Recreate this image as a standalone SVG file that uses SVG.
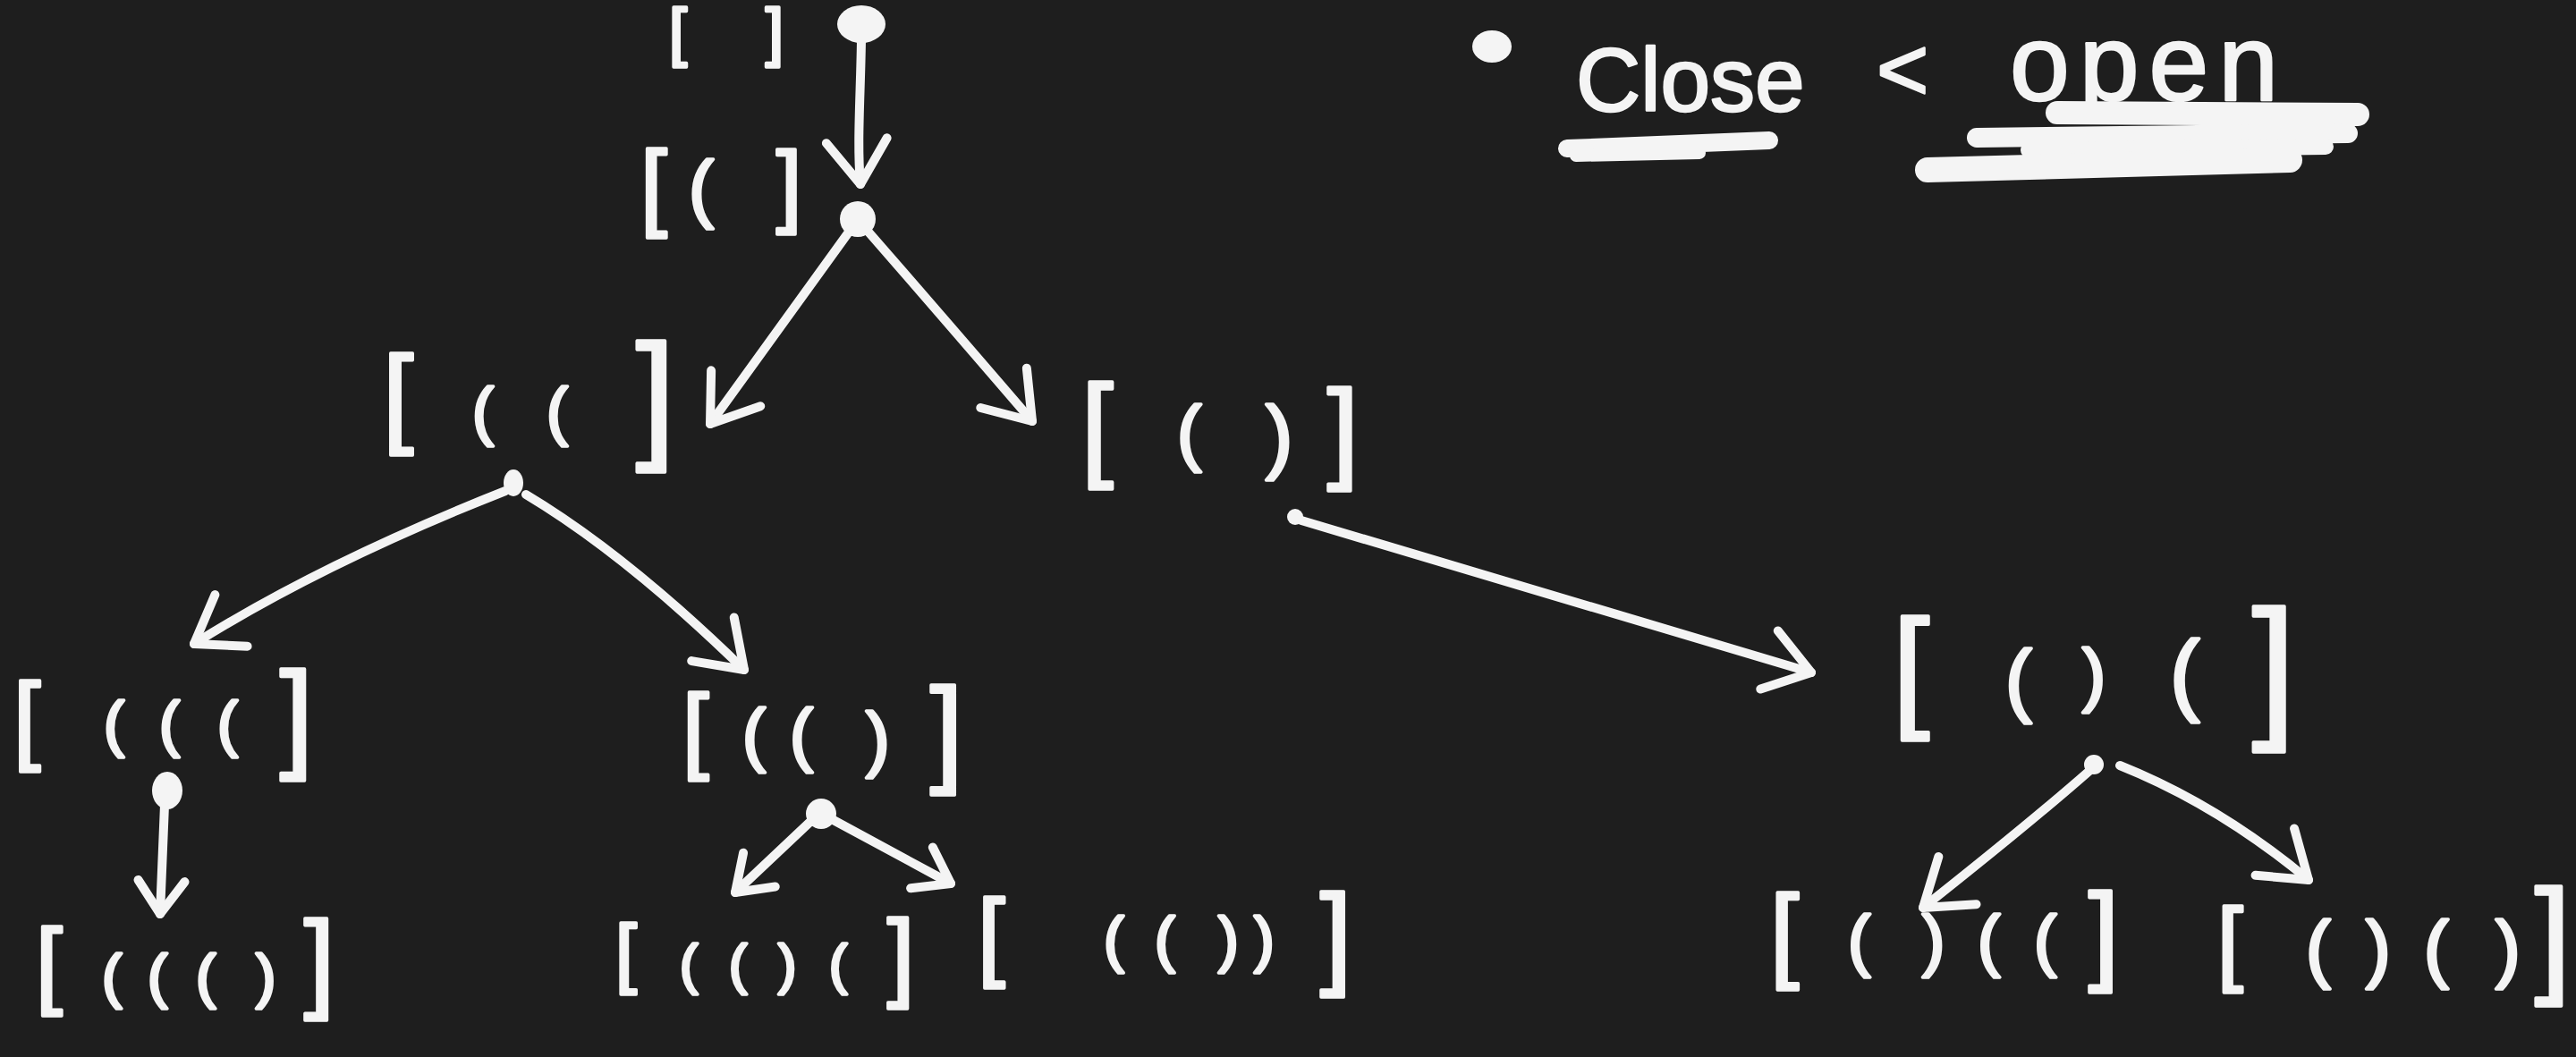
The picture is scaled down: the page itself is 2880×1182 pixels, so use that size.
<svg xmlns="http://www.w3.org/2000/svg" width="2880" height="1182" viewBox="0 0 2880 1182">
<style>
.bg{fill:#1e1e1e}
.ink{font-family:"Liberation Sans",Arial,sans-serif;fill:#f4f4f4;stroke:#f4f4f4;stroke-width:3.5;stroke-linejoin:round}
.edge{fill:none;stroke:#f4f4f4;stroke-width:10;stroke-linecap:round;stroke-linejoin:round;marker-end:url(#ah)}
.edge.s{marker-end:url(#ahs)}
.dot{fill:#f4f4f4}
.scrib{fill:none;stroke:#f4f4f4;stroke-linecap:round}
</style>
<defs>
<marker id="ah" viewBox="0 0 64 80" refX="58" refY="40" markerWidth="64" markerHeight="80" markerUnits="userSpaceOnUse" orient="auto" overflow="visible">
<path d="M9,6 L58,40 L9,74" fill="none" stroke="#f4f4f4" stroke-width="10" stroke-linecap="round" stroke-linejoin="round"/>
</marker>
<marker id="ahs" viewBox="0 0 50 62" refX="44" refY="31" markerWidth="50" markerHeight="62" markerUnits="userSpaceOnUse" orient="auto" overflow="visible">
<path d="M7,5 L44,31 L7,57" fill="none" stroke="#f4f4f4" stroke-width="10" stroke-linecap="round" stroke-linejoin="round"/>
</marker>
</defs>
<rect class="bg" x="0" y="0" width="2880" height="1182"/>

<g id="connectors">
<path class="edge" d="M963,45 C962,110 958,160 962,206"/>
<path class="edge" d="M950,258 L794,474"/>
<path class="edge" d="M968,256 Q1050,350 1154,471"/>
<path class="edge" d="M565,549 Q360,630 217,720"/>
<path class="edge" d="M588,553 Q700,620 832,749"/>
<path class="edge" d="M1455,582 L2025,752"/>
<path class="edge s" d="M184,900 L179,1022"/>
<path class="edge s" d="M910,915 L822,998"/>
<path class="edge s" d="M928,915 L1063,988"/>
<path class="edge" d="M2336,862 Q2270,920 2150,1015"/>
<path class="edge" d="M2370,856 Q2480,900 2581,984"/>
<ellipse class="dot" cx="963" cy="27" rx="27" ry="21"/>
<circle class="dot" cx="959" cy="245" r="20"/>
<ellipse class="dot" cx="574" cy="540" rx="11" ry="15"/>
<circle class="dot" cx="1448" cy="578" r="9"/>
<ellipse class="dot" cx="187" cy="884" rx="17" ry="21"/>
<circle class="dot" cx="918" cy="910" r="17"/>
<circle class="dot" cx="2341" cy="855" r="11"/>
</g>

<g id="node-empty"><text class="ink"><tspan x="748" y="60" font-size="72">[</tspan> <tspan x="856" y="60" font-size="72">]</tspan></text></g>

<g id="node-1"><text class="ink"><tspan x="716" y="244" font-size="107">[</tspan><tspan x="770" y="239" font-size="84">(</tspan><tspan x="868" y="241" font-size="102">]</tspan></text></g>

<g id="node-2"><text class="ink"><tspan x="428" y="484" font-size="123">[</tspan><tspan x="528" y="484" font-size="72">(</tspan><tspan x="611" y="484" font-size="72">(</tspan><tspan x="711" y="495" font-size="157">]</tspan></text></g>

<g id="node-3"><text class="ink"><tspan x="1209" y="520" font-size="128">[</tspan><tspan x="1316" y="511" font-size="82">(</tspan><tspan x="1415" y="518" font-size="91">)</tspan><tspan x="1484" y="523" font-size="125">]</tspan></text></g>

<g id="node-4"><text class="ink"><tspan x="15" y="840" font-size="109">[</tspan><tspan x="116" y="833" font-size="69">(</tspan><tspan x="178" y="833" font-size="69">(</tspan><tspan x="243" y="833" font-size="69">(</tspan><tspan x="313" y="845" font-size="133">]</tspan></text></g>

<g id="node-5"><text class="ink"><tspan x="763" y="851" font-size="106">[</tspan><tspan x="830" y="848" font-size="78">(</tspan><tspan x="883" y="848" font-size="78">(</tspan><tspan x="968" y="853" font-size="80">)</tspan><tspan x="1040" y="862" font-size="132">]</tspan></text></g>

<g id="node-6"><text class="ink"><tspan x="2116" y="797" font-size="148">[</tspan><tspan x="2242" y="790" font-size="89">(</tspan><tspan x="2328" y="781" font-size="78">)</tspan><tspan x="2426" y="787" font-size="100">(</tspan><tspan x="2518" y="805" font-size="174">]</tspan></text></g>

<g id="node-7"><text class="ink"><tspan x="40" y="1114" font-size="107">[</tspan><tspan x="114" y="1114" font-size="67">(</tspan><tspan x="165" y="1114" font-size="67">(</tspan><tspan x="219" y="1114" font-size="67">(</tspan><tspan x="286" y="1114" font-size="67">)</tspan><tspan x="340" y="1116" font-size="123">]</tspan></text></g>

<g id="node-8"><text class="ink"><tspan x="688" y="1094" font-size="86">[</tspan><tspan x="760" y="1099" font-size="61">(</tspan><tspan x="815" y="1099" font-size="61">(</tspan><tspan x="870" y="1099" font-size="61">)</tspan><tspan x="927" y="1099" font-size="61">(</tspan><tspan x="992" y="1105" font-size="109">]</tspan></text></g>

<g id="node-9"><text class="ink"><tspan x="1093" y="1082" font-size="110">[</tspan><tspan x="1234" y="1074" font-size="68">(</tspan><tspan x="1291" y="1074" font-size="68">(</tspan><tspan x="1362" y="1074" font-size="68">)</tspan><tspan x="1402" y="1074" font-size="68">)</tspan><tspan x="1476" y="1089" font-size="127">]</tspan></text></g>

<g id="node-10"><text class="ink"><tspan x="1979" y="1083" font-size="116">[</tspan><tspan x="2066" y="1077" font-size="76">(</tspan><tspan x="2149" y="1077" font-size="76">)</tspan><tspan x="2211" y="1077" font-size="76">(</tspan><tspan x="2274" y="1077" font-size="76">(</tspan><tspan x="2335" y="1085" font-size="122">]</tspan></text></g>

<g id="node-11"><text class="ink"><tspan x="2479" y="1088" font-size="103">[</tspan><tspan x="2578" y="1089" font-size="83">(</tspan><tspan x="2645" y="1089" font-size="83">)</tspan><tspan x="2710" y="1089" font-size="83">(</tspan><tspan x="2790" y="1089" font-size="83">)</tspan><tspan x="2834" y="1095" font-size="143">]</tspan></text></g>

<g id="note">
<ellipse class="dot" cx="1668" cy="52" rx="22" ry="18"/>
<text class="ink" style="stroke-width:2.5"><tspan x="1762" y="124" font-size="100">Close</tspan><tspan x="2098" y="112" font-size="100">&lt;</tspan><tspan x="2247" y="112" font-size="120" textLength="300" lengthAdjust="spacing">open</tspan></text>
<path class="scrib" stroke-width="20" d="M1752,166 L1978,157"/>
<path class="scrib" stroke-width="14" d="M1762,174 L1900,171"/>
<path class="scrib" stroke-width="26" d="M2300,126 L2636,128"/>
<path class="scrib" stroke-width="22" d="M2210,154 L2625,149"/>
<path class="scrib" stroke-width="18" d="M2268,168 L2600,164"/>
<path class="scrib" stroke-width="28" d="M2155,190 L2560,179"/>
</g>
</svg>
